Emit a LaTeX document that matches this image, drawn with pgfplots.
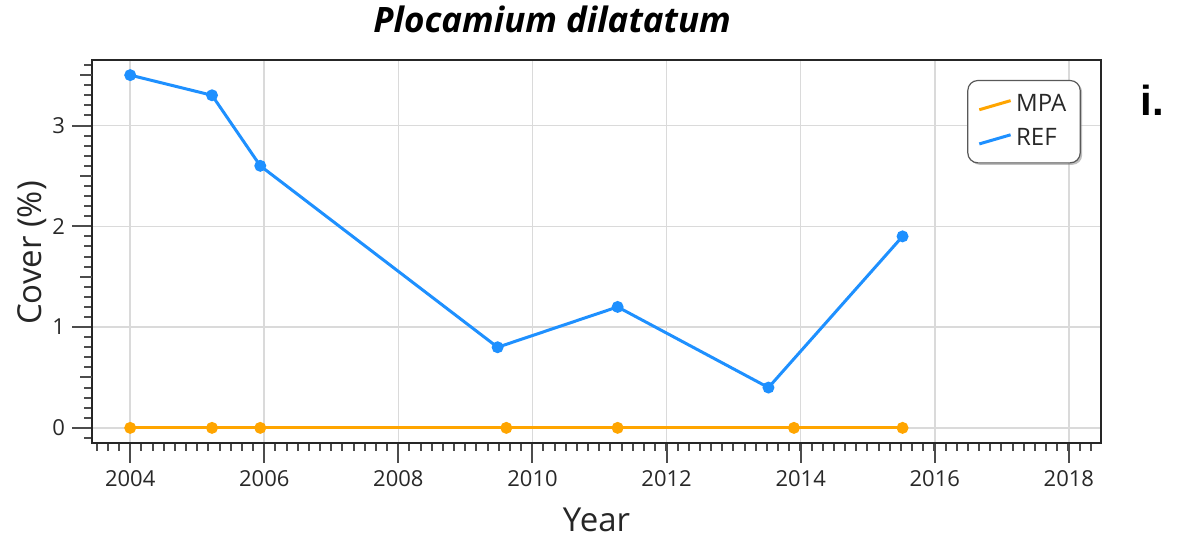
\documentclass[border=0pt]{standalone}
\usepackage{fontspec}
\setmainfont{Open Sans}
\newfontfamily\labfont{Liberation Sans}
\usepackage{pgfplots}
\pgfplotsset{compat=1.18}
\usetikzlibrary{shadows}

\definecolor{refblue}{RGB}{30,144,255}
\definecolor{mpaorange}{RGB}{255,165,0}
\definecolor{gridgray}{RGB}{218,218,218}
\definecolor{ticktext}{RGB}{40,40,40}

\makeatletter
\tikzset{no preactions/.code={\let\tikz@preactions\pgfutil@empty}}
\makeatother

\begin{document}
\begin{tikzpicture}
\useasboundingbox (-46pt,-48.5pt) rectangle (548.5pt,221.5pt);
\begin{axis}[
    scale only axis,
    width=504.5pt, height=191.5pt,
    xmin=2003.43, xmax=2018.48,
    ymin=-0.15, ymax=3.65,
    xtick={2004,2006,...,2018},
    ytick={0,1,2,3},
    minor xtick={2003.5,2003.66667,...,2018.5},
    minor ytick={-0.1,0,...,3.6},
    extra y ticks={0.5,1.5,2.5,3.5},
    extra y tick labels={},
    extra y tick style={major tick length=6pt, grid=none},
    tick align=outside,
    major tick length=10pt,
    minor tick length=4pt,
    xtick pos=bottom, ytick pos=left,
    every tick/.style={black!70, line width=1pt},
    grid=major,
    major grid style={gridgray, line width=0.8pt},
    axis line style={black!85, line width=0.8pt},
    x tick label style={/pgf/number format/1000 sep={}},
    /pgf/number format/assume math mode=true,
    tick label style={font=\fontsize{11}{13}\selectfont, text=ticktext},
    xlabel={Year},
    ylabel={Cover (\%)},
    label style={font=\fontsize{16.5}{20}\selectfont, text=black!85},
    xlabel style={at={(axis description cs:0.5,-0.232)}, anchor=base},
    ylabel style={at={(axis description cs:-0.0496,0.496)}, anchor=base},
    title={Plocamium dilatatum},
    title style={font=\fontsize{17.5}{21}\selectfont\bfseries\itshape,
                 at={(axis description cs:0.456,1)}, anchor=base, yshift=8pt},
    legend style={at={(rel axis cs:0.980,0.948)}, anchor=north east,
                  draw=black!65, line width=0.6pt, rounded corners=5pt,
                  drop shadow={shadow xshift=1pt, shadow yshift=-1pt, opacity=0.5},
                  fill=white, font=\fontsize{12}{14}\selectfont,
                  inner xsep=5pt, inner ysep=5pt, row sep=3pt,
                  cells={anchor=west, text=ticktext}},
    legend image code/.code={\draw[no preactions, #1, mark=none] (0cm,-0.09cm) -- (0.55cm,0.07cm);},
    clip=false,
]
% MPA
\addplot[mpaorange, line width=1.5pt, mark=*, mark size=2.2pt] coordinates {
    (2004.00,0)(2005.22,0)(2005.94,0)(2009.61,0)(2011.27,0)(2013.90,0)(2015.52,0)
};
\addlegendentry{MPA}
% REF
\addplot[refblue, line width=1.5pt, mark=*, mark size=2.2pt] coordinates {
    (2004.00,3.50)(2005.22,3.30)(2005.94,2.60)(2009.48,0.80)(2011.27,1.20)(2013.52,0.40)(2015.52,1.90)
};
\addlegendentry{REF}
\node[anchor=base west, font=\labfont\fontsize{21}{24}\selectfont\bfseries, inner sep=0pt]
    at (rel axis cs:1.0387,0.856) {i.};
\end{axis}
\end{tikzpicture}
\end{document}
